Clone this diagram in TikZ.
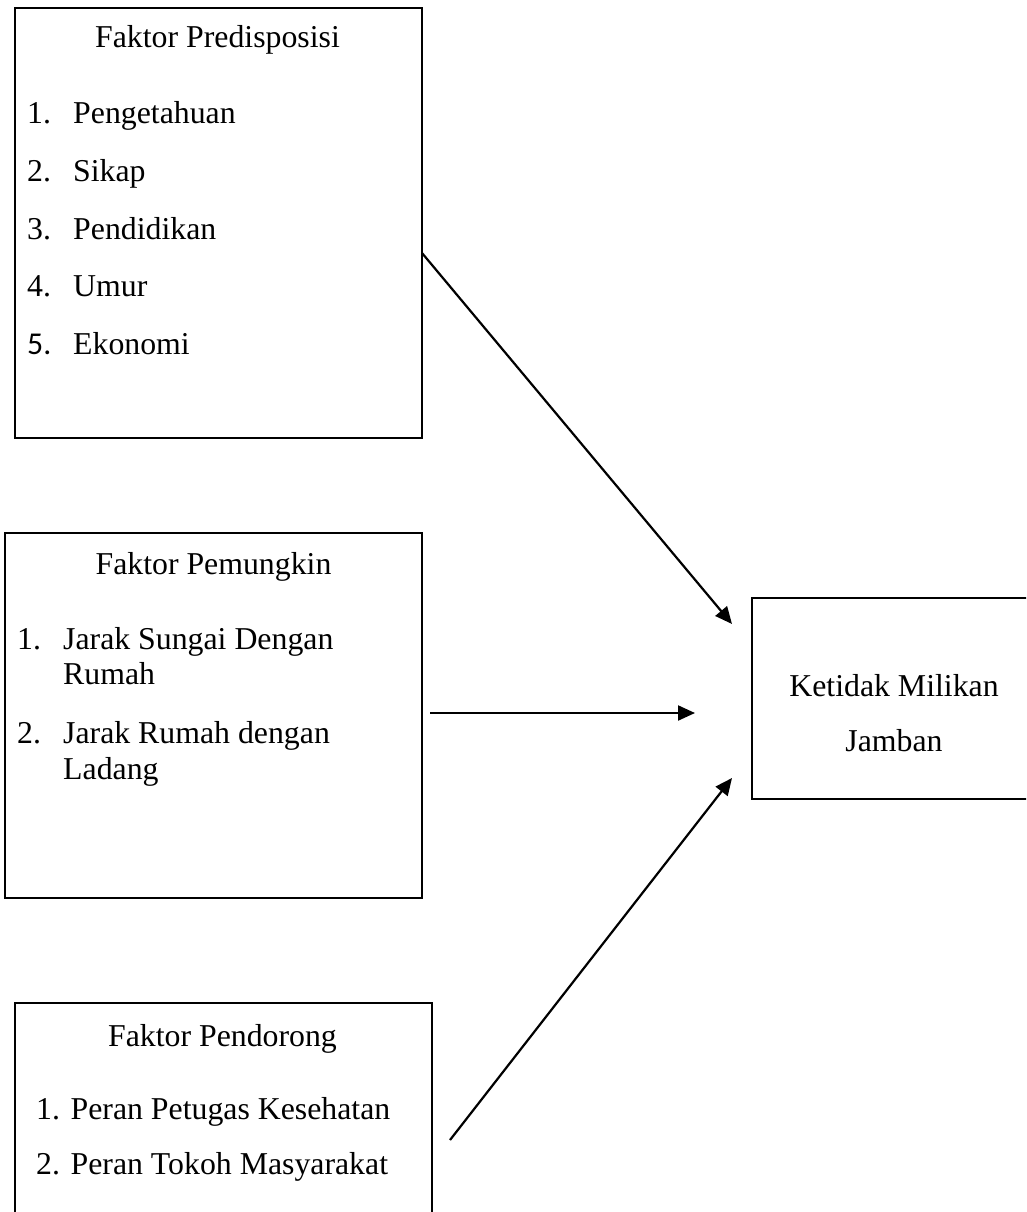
\documentclass[tikz,border=0pt]{standalone}
\usepackage{fontspec}
\setmainfont{Liberation Serif}
\newfontfamily\calfont{Carlito}
\usetikzlibrary{arrows.meta,positioning}
\tikzset{
  kotak/.style={draw,line width=2pt,inner sep=0pt},
  judul/.style={inner sep=0pt,anchor=base},
  isi/.style={inner sep=0pt,anchor=base west}
}
\begin{document}
\begin{tikzpicture}[x=1pt,y=-1pt,font=\fontsize{31.8}{38}\selectfont]
\useasboundingbox (0,0) rectangle (1026,1212);
\clip (0,0) rectangle (1026,1212);
\node[kotak,minimum width=407pt,minimum height=430pt] (A) at (218.5,223) {};
\node[kotak,minimum width=417pt,minimum height=365pt] (B) at (213.5,715.5) {};
\node[kotak,minimum width=417pt,minimum height=260pt] (C) at (223.5,1133) {};
\node[kotak,minimum width=290pt,minimum height=201pt] (D) at (897,698.5) {};
\node[judul] (A0) at (217.5,48) {Faktor Predisposisi};
\node[isi] (A1) at (27,124) {1.};
\node[isi] (A2) at (27,181) {2.};
\node[isi] (A3) at (27,239) {3.};
\node[isi] (A4) at (27,296) {4.};
\node[isi] (A5) at (27,354) {\calfont 5.};
\node[isi] (A1') at (73,124) {Pengetahuan};
\node[isi] (A2') at (73,181) {Sikap};
\node[isi] (A3') at (73,239) {Pendidikan};
\node[isi] (A4') at (73,296) {Umur};
\node[isi] (A5') at (73,354) {Ekonomi};
\node[judul] (B0) at (213.5,574) {Faktor Pemungkin};
\node[isi] (B1) at (17,649) {1.};
\node[isi] (B2) at (17,743) {2.};
\node[isi] (B1') at (63,649) {Jarak Sungai Dengan};
\node[isi] (B1'') at (63,684) {Rumah};
\node[isi] (B2') at (63,743) {Jarak Rumah dengan};
\node[isi] (B2'') at (63,779) {Ladang};
\node[judul] (C0) at (222.5,1046) {Faktor Pendorong};
\node[isi] (C1) at (36,1119) {1. Peran Petugas Kesehatan};
\node[isi] (C2) at (36,1174) {2. Peran Tokoh Masyarakat};
\node[judul] (D1) at (894,696) {Ketidak Milikan};
\node[judul] (D2) at (894,751) {Jamban};
\coordinate (s1) at (422,253);
\coordinate (t1) at (732,624);
\coordinate (s2) at (430,713);
\coordinate (t2) at (695,713);
\coordinate (s3) at (450,1140);
\coordinate (t3) at (732,778);
\path[->,line width=2.2pt,>={Triangle[length=17pt,width=15pt]}]
(s1) edge (t1)
(s2) edge (t2)
(s3) edge (t3);
\end{tikzpicture}
\end{document}
